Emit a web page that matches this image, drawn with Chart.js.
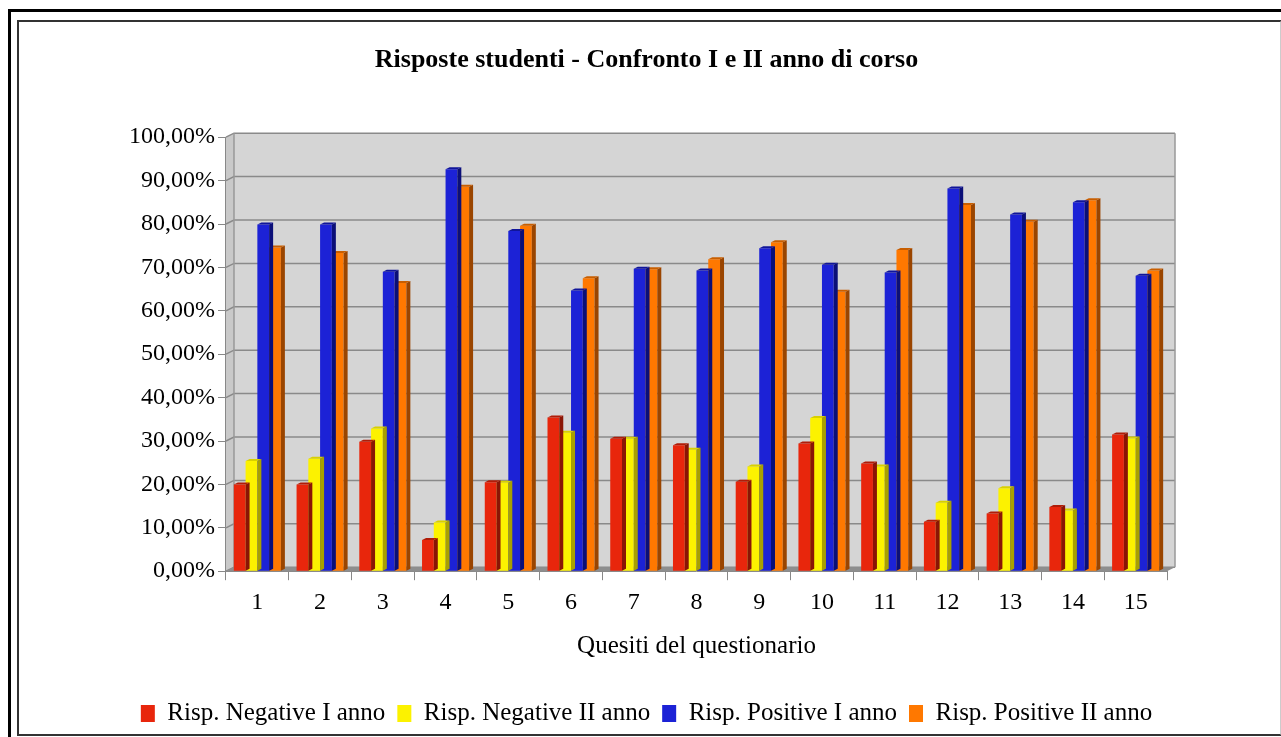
<!DOCTYPE html>
<html>
<head>
<meta charset="utf-8">
<script src="https://cdn.jsdelivr.net/npm/chart.js@4.4.1/dist/chart.umd.min.js"></script>
<style>
  html, body { margin: 0; padding: 0; background: #fff; }
  #wrap { position: relative; width: 1281px; height: 737px; overflow: hidden; }
  #outer { position: absolute; left: 8px; top: 9px; width: 1300px; height: 800px; border-left: 3px solid #000; border-top: 3px solid #000; }
  #inner { position: absolute; left: 17px; top: 20px; width: 1261px; height: 712px; border: 2px solid #333; border-right-color: #ccc; }
  canvas { position: absolute; left: 0; top: 0; }
</style>
</head>
<body>
<div id="wrap">
  <div id="outer"></div>
  <div id="inner"></div>
  <canvas id="chart" width="1281" height="737"></canvas>
</div>
<script>
// Data definitions
const quesiti = ['1', '2', '3', '4', '5', '6', '7', '8', '9', '10', '11', '12', '13', '14', '15'];
const negativeIAnno = [20.0, 20.0, 29.8, 7.2, 20.5, 35.4, 30.5, 29.0, 20.6, 29.4, 24.8, 11.4, 13.3, 14.8, 31.5];
const negativeIIAnno = [25.4, 25.9, 32.9, 11.2, 20.4, 31.9, 30.5, 28.0, 24.1, 35.3, 24.1, 15.8, 19.1, 14.0, 30.6];
const positiveIAnno = [79.9, 79.9, 69.0, 92.6, 78.4, 64.7, 69.7, 69.3, 74.4, 70.6, 68.8, 88.2, 82.2, 85.0, 68.1];
const positiveIIAnno = [74.6, 73.3, 66.4, 88.6, 79.6, 67.5, 69.6, 71.9, 75.8, 64.4, 74.0, 84.4, 80.5, 85.5, 69.3];

const serif = "'Liberation Serif', 'DejaVu Serif', serif";
const depthX = 8, depthY = 4;     // 3d offset of the walls
const barDepth = 4;               // 3d offset of the bars

// back wall, side wall, floor and grid lines
const wallsPlugin = {
  id: 'walls',
  beforeDatasetsDraw(chart) {
    const ctx = chart.ctx;
    const a = chart.chartArea;
    const y = chart.scales.y;
    ctx.save();
    // side wall
    ctx.fillStyle = '#c9c9c9';
    ctx.beginPath();
    ctx.moveTo(a.left, a.top);
    ctx.lineTo(a.left + depthX, a.top - depthY);
    ctx.lineTo(a.left + depthX, a.bottom - depthY);
    ctx.lineTo(a.left, a.bottom);
    ctx.closePath();
    ctx.fill();
    // back wall
    ctx.fillStyle = '#d5d5d5';
    ctx.fillRect(a.left + depthX, a.top - depthY, a.right - a.left, a.bottom - a.top);
    // grid lines
    ctx.strokeStyle = '#8a8a8a';
    ctx.lineWidth = 1.5;
    y.ticks.forEach(t => {
      const py = y.getPixelForValue(t.value);
      ctx.beginPath();
      ctx.moveTo(a.left, py);
      ctx.lineTo(a.left + depthX, py - depthY);
      ctx.lineTo(a.right + depthX, py - depthY);
      ctx.stroke();
    });
    ctx.strokeStyle = '#999';
    ctx.beginPath();
    ctx.moveTo(a.left + depthX, a.top - depthY);
    ctx.lineTo(a.left + depthX, a.bottom - depthY);
    ctx.moveTo(a.right + depthX, a.top - depthY);
    ctx.lineTo(a.right + depthX, a.bottom - depthY);
    ctx.stroke();
    // floor
    ctx.fillStyle = '#8e8e8e';
    ctx.beginPath();
    ctx.moveTo(a.left, a.bottom);
    ctx.lineTo(a.left + depthX, a.bottom - depthY);
    ctx.lineTo(a.right + depthX, a.bottom - depthY);
    ctx.lineTo(a.right, a.bottom);
    ctx.closePath();
    ctx.fill();
    ctx.restore();
  },
  afterDatasetDraw(chart, args) {
    // side and top faces of the bars
    const ctx = chart.ctx;
    const ds = chart.data.datasets[args.index];
    ctx.save();
    args.meta.data.forEach(bar => {
      const r = bar.x + bar.width / 2;
      const l = bar.x - bar.width / 2;
      ctx.fillStyle = ds.sideColor;
      ctx.beginPath();
      ctx.moveTo(r, bar.y);
      ctx.lineTo(r + barDepth, bar.y - barDepth / 2);
      ctx.lineTo(r + barDepth, bar.base - barDepth / 2);
      ctx.lineTo(r, bar.base);
      ctx.closePath();
      ctx.fill();
      ctx.fillStyle = ds.topColor;
      ctx.beginPath();
      ctx.moveTo(l, bar.y);
      ctx.lineTo(l + barDepth, bar.y - barDepth / 2);
      ctx.lineTo(r + barDepth, bar.y - barDepth / 2);
      ctx.lineTo(r, bar.y);
      ctx.closePath();
      ctx.fill();
    });
    ctx.restore();
  }
};

const chart = new Chart(document.getElementById('chart').getContext('2d'), {
  type: 'bar',
  data: {
    labels: quesiti,
    datasets: [
      { label: 'Risp. Negative I anno', data: negativeIAnno, backgroundColor: '#e8260c', sideColor: '#8a1505', topColor: '#b01c08' },
      { label: 'Risp. Negative II anno', data: negativeIIAnno, backgroundColor: '#fcf200', sideColor: '#a8a000', topColor: '#d8d000' },
      { label: 'Risp. Positive I anno', data: positiveIAnno, backgroundColor: '#1c22d6', sideColor: '#0b0f78', topColor: '#10159a' },
      { label: 'Risp. Positive II anno', data: positiveIIAnno, backgroundColor: '#ff7800', sideColor: '#9a4500', topColor: '#c85e00' }
    ]
  },
  options: {
    responsive: false,
    animation: false,
    categoryPercentage: 0.75,
    barPercentage: 1,
    layout: { padding: { left: 126, right: 114, top: 45, bottom: 1 } },
    plugins: {
      title: {
        display: true,
        text: 'Risposte studenti - Confronto I e II anno di corso',
        color: '#000',
        font: { family: serif, size: 26, weight: 'bold' },
        padding: { top: 0, bottom: 61 }
      },
      legend: {
        position: 'bottom',
        labels: {
          color: '#000',
          font: { family: serif, size: 25 },
          boxWidth: 14,
          boxHeight: 17,
          padding: 12
        }
      },
      tooltip: { enabled: false }
    },
    scales: {
      x: {
        grid: { drawOnChartArea: false, drawTicks: true, tickLength: 9, color: '#888', offset: true },
        border: { display: true, color: '#888' },
        ticks: { color: '#000', font: { family: serif, size: 24 }, padding: 8 },
        title: { display: true, text: 'Quesiti del questionario', color: '#000', font: { family: serif, size: 25 }, padding: { top: 6, bottom: 28 } }
      },
      y: {
        min: 0,
        max: 100,
        ticks: {
          stepSize: 10,
          color: '#000',
          font: { family: serif, size: 24 },
          padding: 3,
          callback: v => v.toFixed(2).replace('.', ',') + '%'
        },
        grid: { drawOnChartArea: false, drawTicks: true, tickLength: 8, color: '#888' },
        border: { display: true, color: '#888' }
      }
    }
  },
  plugins: [wallsPlugin]
});
</script>
</body>
</html>
